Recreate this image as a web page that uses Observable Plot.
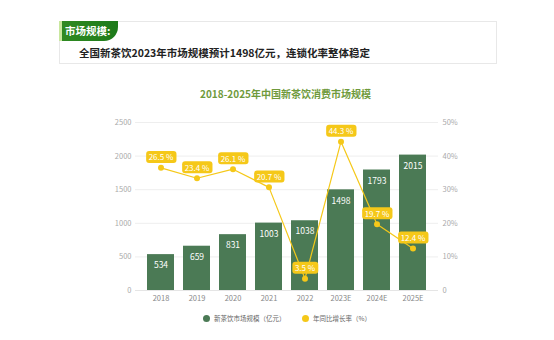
<!DOCTYPE html>
<html><head><meta charset="utf-8">
<script src="https://cdn.jsdelivr.net/npm/d3@7"></script>
<script src="https://cdn.jsdelivr.net/npm/@observablehq/plot@0.6"></script>
<style>
body{margin:0;background:#fff;font-family:"Noto Sans CJK SC","Noto Sans",sans-serif;}
#wrap{position:relative;width:554px;height:340px;overflow:hidden;}
#box{position:absolute;left:59px;top:21px;width:438px;height:43px;border:1px solid #e8e8e8;box-sizing:border-box;}
#tag{position:absolute;left:59px;top:21px;width:59px;height:20px;background:linear-gradient(90deg,#c9e79e 0,#c9e79e 3px,#2f8a22 3px,#1d7a1a 100%);border-bottom-right-radius:14px;color:#fff;font-weight:bold;font-size:10.5px;line-height:20px;padding-left:6px;box-sizing:border-box;}
#sub{position:absolute;left:79px;top:45px;font-size:10.5px;font-weight:bold;color:#222;white-space:nowrap;}
#title{position:absolute;left:0;width:571px;top:86px;text-align:center;font-size:10px;font-weight:bold;color:#6f9a3c;}
#chart{position:absolute;left:0;top:110px;}
#legend{position:absolute;top:313px;left:0;width:554px;font-size:6.5px;color:#666;}
.li{position:absolute;top:0;white-space:nowrap;line-height:10px;}
.dot{display:inline-block;width:7px;height:7px;border-radius:50%;vertical-align:-1px;margin-right:4px;}
</style></head>
<body><div id="wrap">
<div id="box"></div>
<div id="tag">市场规模:</div>
<div id="sub">全国新茶饮2023年市场规模预计1498亿元，连锁化率整体稳定</div>
<div id="title">2018-2025年中国新茶饮消费市场规模</div>
<div id="chart"></div>
<div id="legend">
<div class="li" style="left:203px"><span class="dot" style="background:#4b7a55"></span>新茶饮市场规模（亿元）</div>
<div class="li" style="left:302px"><span class="dot" style="background:#f5c819"></span>年同比增长率（%）</div>
</div>
</div>
<script>
const years = ["2018","2019","2020","2021","2022","2023E","2024E","2025E"];
const marketSize = [534,659,831,1003,1038,1498,1793,2015];
const growthPlotted = [36.5,33.4,36.1,30.7,3.5,44.3,19.7,12.5];
const growthLabels = ["26.5 %","23.4 %","26.1 %","20.7 %","3.5 %","44.3 %","19.7 %","12.4 %"];
const leftTicks = [0,500,1000,1500,2000,2500];
const rightTickLabels = ["0","10%","20%","30%","40%","50%"];

const green = "#4b7a55", yellow = "#f5c819";
const bars = years.map((y,i)=>({year:y, size:marketSize[i]}));
const pts = years.map((y,i)=>({year:y, v:growthPlotted[i]*50, label:growthLabels[i]}));

const chart = Plot.plot({
  width:554, height:200,
  marginLeft:135, marginRight:116, marginTop:12, marginBottom:20,
  style:{fontFamily:"'Noto Sans CJK SC','Noto Sans',sans-serif", fontSize:"7.5px", color:"#999", background:"transparent"},
  x:{domain:years, padding:0.24, label:null},
  y:{domain:[0,2500], label:null},
  marks:[
    Plot.gridY(leftTicks,{stroke:"#eee", strokeOpacity:1}),
    Plot.axisY(leftTicks,{anchor:"left", tickSize:0, tickPadding:4, fill:"#aaa", label:null, tickFormat:d=>String(d)}),
    Plot.axisY(leftTicks,{anchor:"right", tickSize:0, tickPadding:4, fill:"#aaa", label:null, tickFormat:(d,i)=>rightTickLabels[leftTicks.indexOf(d)]}),
    Plot.axisX({tickSize:0, tickPadding:5, fill:"#888", label:null}),
    Plot.ruleY([0],{stroke:"#e5e5e5"}),
    Plot.barY(bars,{x:"year", y:"size", fill:green}),
    Plot.text(bars,{x:"year", y:"size", text:d=>String(d.size), fill:"#fff", dy:11, fontSize:8.5}),
    Plot.line(pts,{x:"year", y:"v", stroke:yellow, strokeWidth:1.2}),
    Plot.dot(pts,{x:"year", y:"v", r:3, fill:yellow}),
    Plot.text(pts,{x:"year", y:"v", text:"label", dy:-10, fill:"#fff", fontSize:8})
  ]
});
document.getElementById("chart").appendChild(chart);
// rounded yellow boxes behind the growth labels
const labelSet = new Set(growthLabels);
chart.querySelectorAll("text").forEach(t=>{
  if (!labelSet.has(t.textContent)) return;
  let b;
  try { b = t.getBBox(); } catch(e) { return; }
  const r = document.createElementNS("http://www.w3.org/2000/svg","rect");
  r.setAttribute("x", b.x-2.5); r.setAttribute("y", b.y-0.5);
  r.setAttribute("width", b.width+5); r.setAttribute("height", b.height+1);
  r.setAttribute("rx", 3); r.setAttribute("fill", yellow);
  const tr = t.getAttribute("transform"); if (tr) r.setAttribute("transform", tr);
  t.parentNode.insertBefore(r, t);
});
</script>
</body></html>
